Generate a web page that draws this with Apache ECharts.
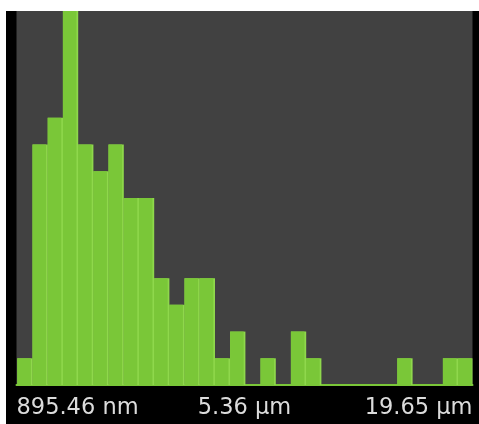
<!DOCTYPE html>
<html>
<head>
<meta charset="utf-8">
<script src="https://cdn.jsdelivr.net/npm/echarts@6/dist/echarts.min.js"></script>
<style>
  html, body { margin: 0; padding: 0; background: #ffffff; width: 479px; height: 424px; overflow: hidden; }
  #chart { position: absolute; left: 6px; top: 11px; width: 473px; height: 413px; background: #000000; }
</style>
</head>
<body>
<div id="chart"></div>
<script>
// Size-distribution histogram: 30 bins, counts per bin
const bins = ['1','2','3','4','5','6','7','8','9','10','11','12','13','14','15',
              '16','17','18','19','20','21','22','23','24','25','26','27','28','29','30'];
const counts = [1, 9, 10, 14, 9, 8, 9, 7, 7, 4, 3, 4, 4, 1, 2,
                0, 1, 0, 2, 1, 0, 0, 0, 0, 0, 1, 0, 0, 1, 1];
// Range labels under the histogram (start, middle, end)
const tickLabels = ['895.46 nm', '5.36 µm', '19.65 µm'];

const GREEN = '#7ac738';
const GREEN_LIGHT = '#8fd84c';

const chart = echarts.init(document.getElementById('chart'), null, { renderer: 'canvas' });

chart.setOption({
  animation: false,
  backgroundColor: '#000000',
  grid: {
    left: 10.5, right: 6.5, top: 0, bottom: 39,
    show: true, backgroundColor: '#414141', borderWidth: 0
  },
  xAxis: [
    {
      type: 'category',
      data: bins,
      boundaryGap: true,
      axisLine: { show: true, lineStyle: { color: GREEN, width: 2 } },
      axisTick: { show: false },
      axisLabel: { show: false },
      splitLine: { show: false }
    },
    {
      type: 'value',
      position: 'bottom',
      min: 0, max: 30, interval: 15,
      axisLine: { show: false },
      axisTick: { show: false },
      splitLine: { show: false },
      axisLabel: {
        show: true,
        margin: 12,
        color: '#dcdcdc',
        fontFamily: 'DejaVu Sans',
        fontSize: 22.5,
        alignMinLabel: 'left',
        alignMaxLabel: 'right',
        formatter: v => tickLabels[Math.round(v / 15)]
      }
    }
  ],
  yAxis: {
    type: 'value',
    min: 0, max: 14,
    show: false,
    splitLine: { show: false }
  },
  series: [
    {
      type: 'bar',
      xAxisIndex: 0,
      data: counts,
      barWidth: 15.3,
      itemStyle: { color: GREEN_LIGHT },
      silent: true
    },
    {
      type: 'bar',
      xAxisIndex: 0,
      data: counts,
      barWidth: 13.6,
      barGap: '-100%',
      itemStyle: { color: GREEN },
      silent: true
    }
  ]
});
</script>
</body>
</html>
